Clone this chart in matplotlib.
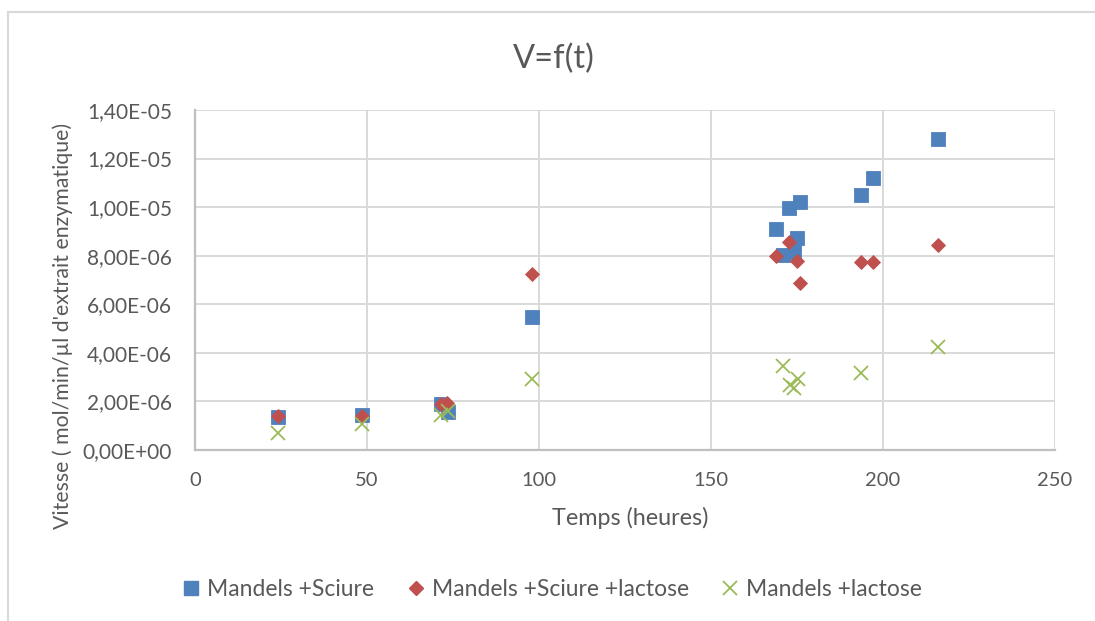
import matplotlib.pyplot as plt
from matplotlib.lines import Line2D
from matplotlib.ticker import FuncFormatter, MultipleLocator

plt.rcParams["font.family"] = ["Lato", "DejaVu Sans"]

# Mandels +Sciure
t_sciure = [24, 48.5, 71.5, 73.5, 98, 169, 171, 172.7, 174, 175, 176, 193.5, 197, 216]
v_sciure = [1.35e-6, 1.45e-6, 1.89e-6, 1.58e-6, 5.46e-6, 9.08e-6, 8.02e-6, 9.98e-6,
            8.15e-6, 8.72e-6, 1.02e-5, 1.05e-5, 1.12e-5, 1.28e-5]

# Mandels +Sciure +lactose
t_sciure_lac = [24, 48.5, 71.5, 73.2, 98, 169, 172.7, 175, 176, 193.5, 197, 216]
v_sciure_lac = [1.41e-6, 1.40e-6, 1.88e-6, 1.92e-6, 7.23e-6, 8.0e-6, 8.55e-6, 7.8e-6,
                6.87e-6, 7.75e-6, 7.75e-6, 8.45e-6]

# Mandels +lactose
t_lac = [24, 48.5, 71.5, 73.5, 98, 170.8, 173, 174, 175.4, 193.5, 216]
v_lac = [0.71e-6, 1.06e-6, 1.44e-6, 1.60e-6, 2.92e-6, 3.47e-6, 2.66e-6, 2.54e-6,
         2.93e-6, 3.18e-6, 4.26e-6]

labels = ["Mandels +Sciure", "Mandels +Sciure +lactose", "Mandels +lactose"]

blue = "#4F81BD"
red = "#C0504D"
green = "#9BBB59"
text_col = "#595959"

fig = plt.figure(figsize=(10.95, 6.21), dpi=100)
ax = fig.add_axes([195 / 1095, 171 / 621, 860 / 1095, 340 / 621])

ax.plot(t_sciure, v_sciure, "s", color=blue, markersize=10.5, markeredgecolor=blue,
        markeredgewidth=0.6, zorder=3)
ax.plot(t_sciure_lac, v_sciure_lac, "D", color=red, markersize=7.5, markeredgecolor=red,
        markeredgewidth=0.6, zorder=4)
ax.plot(t_lac, v_lac, "x", color=green, markersize=10, markeredgewidth=1.3, zorder=5)

ax.set_xlim(0, 250)
ax.set_ylim(0, 1.4e-5)
ax.xaxis.set_major_locator(MultipleLocator(50))
ax.yaxis.set_major_locator(MultipleLocator(2e-6))
ax.yaxis.set_major_formatter(FuncFormatter(lambda v, p: f"{v:.2E}".replace(".", ",")))

ax.grid(True, color="#D9D9D9", linewidth=1.4, zorder=0)
ax.set_axisbelow(True)
for s in ["top", "right"]:
    ax.spines[s].set_visible(False)
for s in ["left", "bottom"]:
    ax.spines[s].set_color("#BFBFBF")
    ax.spines[s].set_linewidth(1.6)
ax.tick_params(length=0, labelsize=14.5, labelcolor=text_col)
ax.tick_params(axis="y", labelsize=15, pad=16.5)
ax.tick_params(axis="x", pad=16)

fig.text(630 / 1095, 1 - 518 / 621, "Temps (heures)", ha="center", va="center",
         fontsize=16.8, color=text_col)
fig.text(554 / 1095, 1 - 59 / 621, "V=f(t)", ha="center", va="center",
         fontsize=23.5, color=text_col)
fig.text(63 / 1095, 1 - 326 / 621, "Vitesse ( mol/min/µl d'extrait enzymatique)",
         rotation=90, ha="center", va="center", fontsize=15.3, color=text_col)

handles = [
    Line2D([], [], marker="s", linestyle="", color=blue, markersize=10.5),
    Line2D([], [], marker="D", linestyle="", color=red, markersize=7.5),
    Line2D([], [], marker="x", linestyle="", color=green, markersize=10, markeredgewidth=1.3),
]
fig.legend(handles, labels, loc="center", bbox_to_anchor=(552 / 1095, 1 - 590 / 621),
           ncol=3, frameon=False, fontsize=16.5, labelcolor=text_col,
           handlelength=0.8, handletextpad=0.3, columnspacing=1.4)

# chart area border
fig.add_artist(Line2D([8 / 1095, 1.0], [1 - 12 / 621, 1 - 12 / 621], color="#D9D9D9", linewidth=1.5))
fig.add_artist(Line2D([8 / 1095, 8 / 1095], [0, 1 - 12 / 621], color="#D9D9D9", linewidth=1.5))

fig.savefig("out.png", dpi=100)
